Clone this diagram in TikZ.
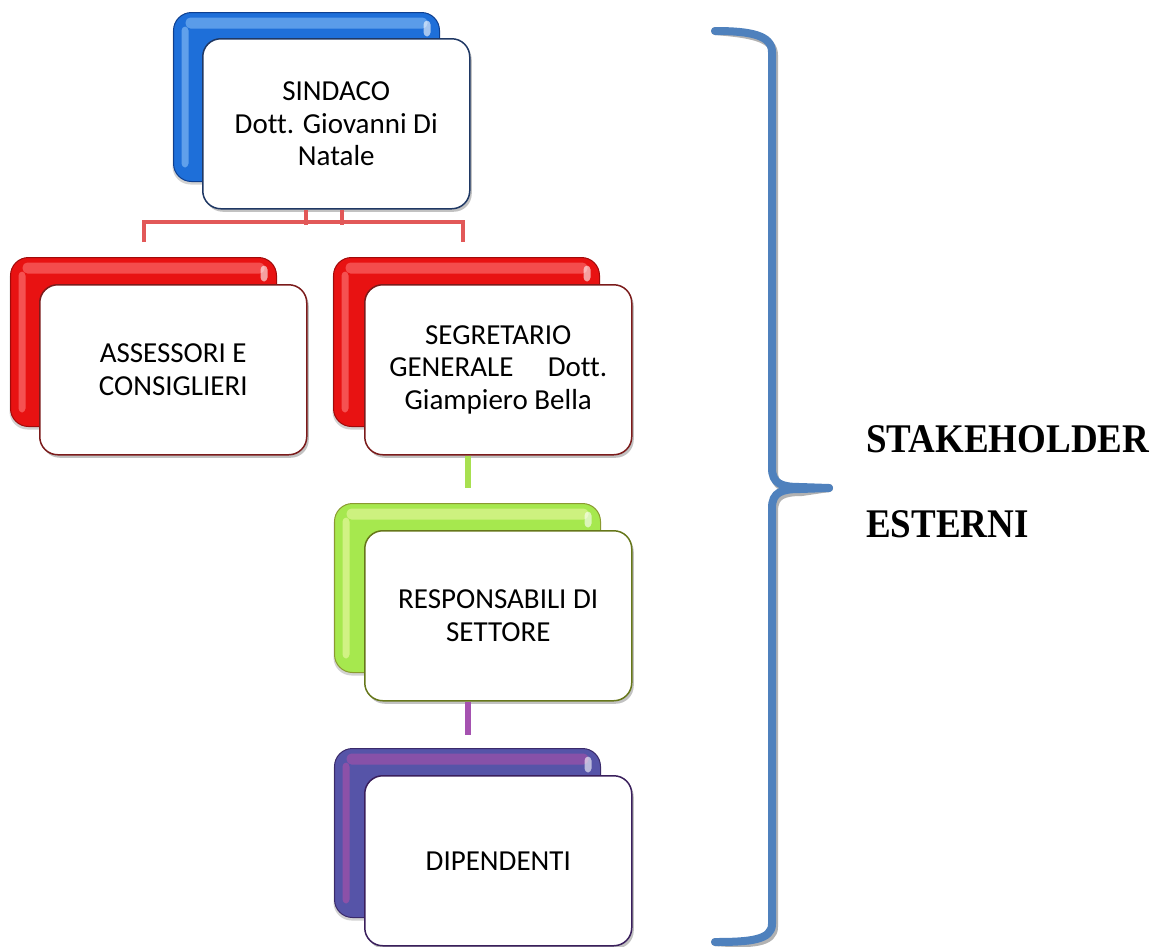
\documentclass[tikz,border=0pt]{standalone}
\usepackage{fontspec}
\setmainfont{Carlito}[Ligatures={NoCommon}]
\newfontfamily\tnr{Liberation Serif}
\usetikzlibrary{shadows,calc}
\definecolor{bluebase}{HTML}{1E6FD9}
\definecolor{bluedark}{HTML}{0E3F8F}
\definecolor{bluehi}{HTML}{8CC2F7}
\definecolor{blueline}{HTML}{1F3864}
\definecolor{redbase}{HTML}{E81212}
\definecolor{reddark}{HTML}{A00A0A}
\definecolor{redhi}{HTML}{FF7C7C}
\definecolor{redline}{HTML}{7B1B1B}
\definecolor{redconn}{HTML}{E25858}
\definecolor{greenbase}{HTML}{A6E84E}
\definecolor{greendark}{HTML}{8A9A30}
\definecolor{greenhi}{HTML}{EEFAA8}
\definecolor{greenline}{HTML}{66771A}
\definecolor{greenconn}{HTML}{A8E050}
\definecolor{purplebase}{HTML}{5654A8}
\definecolor{purpledark}{HTML}{3A2A6A}
\definecolor{purplehi}{HTML}{B050A8}
\definecolor{purpleline}{HTML}{3A1F5C}
\definecolor{purpleconn}{HTML}{A552B0}
\definecolor{bracecol}{HTML}{4F81BD}
\begin{document}
\begin{tikzpicture}[x=1pt,y=-1pt,
  backbox/.style n args={3}{anchor=north west, inner sep=0pt,
    minimum width=266pt, minimum height=169pt, rounded corners=18pt,
    fill=#1, draw=#2, line width=1pt,
    drop shadow={shadow xshift=-1pt, shadow yshift=-3pt, fill=black!35, opacity=0.5},
    path picture={
      \fill[#3, opacity=0.55, rounded corners=5pt]
        ([xshift=12pt,yshift=-5pt]path picture bounding box.north west)
        rectangle ([xshift=-12pt,yshift=-16pt]path picture bounding box.north east);
      \fill[#3, opacity=0.6, rounded corners=4pt]
        ([xshift=8pt,yshift=-14pt]path picture bounding box.north west)
        rectangle ([xshift=15pt,yshift=14pt]path picture bounding box.south west);
      \fill[white, opacity=0.6, rounded corners=4pt]
        ([xshift=-16pt,yshift=-8pt]path picture bounding box.north east)
        rectangle ([xshift=-9pt,yshift=-24pt]path picture bounding box.north east);
    }},
  frontbox/.style={anchor=north west, inner sep=0pt,
    minimum width=267pt, minimum height=170pt, rounded corners=18pt,
    fill=white, draw=#1, line width=1.5pt, align=center,
    drop shadow={shadow xshift=2pt, shadow yshift=-3pt, fill=black!40, opacity=0.6},
    font=\fontsize{29}{32.5}\selectfont},
  conn/.style={line width=#1},
  bracepath/.style={line width=8pt, line cap=round, line join=round},
  sidelabel/.style={anchor=base west, inner sep=0pt, font=\tnr\bfseries\fontsize{37}{44}\selectfont}
]
\useasboundingbox (0,0) rectangle (1157,946);

% SINDACO
\node[backbox={bluebase}{bluedark}{bluehi}] (sinb) at (173,12) {};
\node[frontbox=blueline] (sin) at (202,38) {SINDACO\\Dott. Giovanni Di\\Natale};

% ASSESSORI
\node[backbox={redbase}{reddark}{redhi}] (assb) at (10,257) {};
\node[frontbox=redline] (ass) at (39,284) {ASSESSORI E\\CONSIGLIERI};

% SEGRETARIO
\node[backbox={redbase}{reddark}{redhi}] (segb) at (333,257) {};
\node[frontbox=redline] (seg) at (364,284) {SEGRETARIO\\\makebox[218pt][s]{GENERALE\hfill Dott.}\\Giampiero Bella};

% RESPONSABILI
\node[backbox={greenbase}{greendark}{greenhi}] (respb) at (334,503) {};
\node[frontbox=greenline] (resp) at (364,530) {RESPONSABILI DI\\SETTORE};

% DIPENDENTI
\node[backbox={purplebase}{purpledark}{purplehi}] (dipb) at (334,748) {};
\node[frontbox=purpleline] (dip) at (364,775) {DIPENDENTI};

% connectors
\draw[conn=4pt, redconn] ([yshift=15pt]assb.north) -- ++(0,-20) -| ([yshift=15pt,xshift=-4pt]segb.north);
\draw[conn=4pt, redconn] ([xshift=-30pt]sin.south) -- ++(0,15);
\draw[conn=4pt, redconn] ([xshift=6pt]sin.south) -- ++(0,15);
\draw[conn=6pt, greenconn] ([xshift=-30pt]seg.south) -- ++(0,32);
\draw[conn=6pt, purpleconn] ([xshift=-30pt]resp.south) -- ++(0,33);

% brace
\coordinate (bt) at (715,31);
\coordinate (bm) at (829,488);
\coordinate (bb) at (715,942);
\draw[bracepath, black!30, shift={(2,3)}]
  (bt) .. controls (750,31) and (772,35) .. (772,52) -- (772,468)
  .. controls (772,484) and (782,487) .. (800,487) -- (bm);
\draw[bracepath, black!30, shift={(2,3)}]
  (bm) -- (800,489) .. controls (782,489) and (772,492) .. (772,508)
  -- (772,924) .. controls (772,940) and (750,942) .. (bb);
\draw[bracepath, bracecol]
  (bt) .. controls (750,31) and (772,35) .. (772,52) -- (772,468)
  .. controls (772,484) and (782,487) .. (800,487) -- (bm);
\draw[bracepath, bracecol]
  (bm) -- (800,489) .. controls (782,489) and (772,492) .. (772,508)
  -- (772,924) .. controls (772,940) and (750,942) .. (bb);

% labels
\node[sidelabel] (stk) at (866,452) {\scalebox{1}[1.1]{STAKEHOLDER}};
\node[sidelabel] (est) at (866,537) {\scalebox{1}[1.1]{ESTERNI}};
\end{tikzpicture}
\end{document}
